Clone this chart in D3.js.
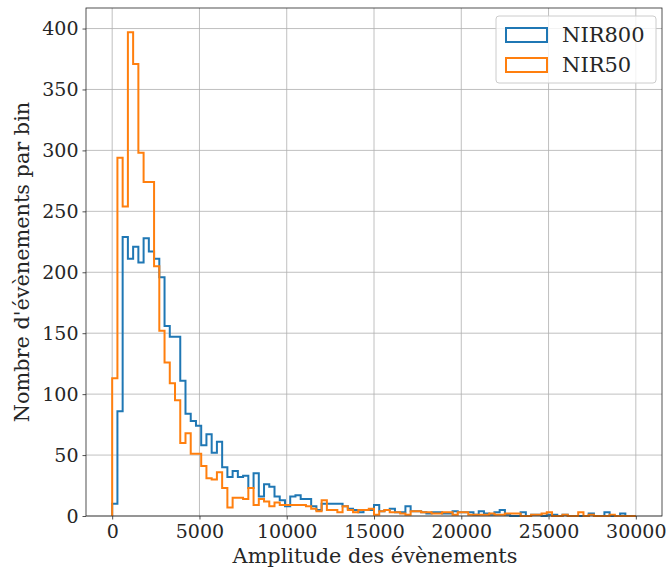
<!DOCTYPE html>
<html><head><meta charset="utf-8">
<script src="https://cdn.jsdelivr.net/npm/d3@7"></script>
<style>body{margin:0;background:#fff}svg{display:block}text{font-family:"DejaVu Serif",serif;fill:#262626}</style>
</head><body><svg id="c" width="672" height="569"></svg>
<script>
const binStart = 0, binWidth = 300, nBins = 100;
const seriesNames = ["NIR800", "NIR50"];
const nir800 = [10, 86, 229, 211, 221, 208, 228, 217, 211, 196, 156, 147, 147, 111, 84, 78, 74,
  58, 67, 52, 61, 40, 32, 37, 32, 33, 23, 35, 16, 26, 24, 16, 13, 8, 16, 17,
  14, 14, 8, 5, 10, 10, 10, 10, 8, 6, 5, 3, 5, 5, 9, 4, 5, 6,
  3, 3, 8, 4, 4, 3, 2, 3, 3, 2, 2, 4, 3, 3, 3, 1, 4, 2,
  1, 3, 5, 1, 0, 0, 3, 0, 1, 1, 0, 1, 1, 0, 1, 0, 0, 0, 0, 2, 0, 0, 3, 0, 0, 2, 0, 0];
const nir50 = [113, 294, 254, 397, 371, 298, 274, 274, 205, 152, 126, 109, 95, 60, 68, 51, 51,
  41, 31, 30, 36, 23, 7, 15, 15, 14, 23, 9, 14, 12, 8, 11, 9, 9, 9, 9,
  9, 8, 6, 4, 13, 5, 5, 3, 8, 5, 3, 5, 5, 6, 1, 4, 5, 3,
  3, 2, 1, 4, 4, 3, 3, 2, 2, 3, 3, 1, 3, 3, 1, 1, 1, 1,
  2, 1, 1, 2, 2, 2, 0, 0, 1, 1, 2, 3, 0, 0, 1, 0, 0, 3, 0, 1, 0, 0, 0, 1, 0, 0, 0, 0];
const xTicks = [0, 5000, 10000, 15000, 20000, 25000, 30000];
const yTicks = [0, 50, 100, 150, 200, 250, 300, 350, 400];
const colors = ["#1f77b4", "#ff7f0e"];

const svg = d3.select("#c");
const L = 86, R = 662, T = 8, B = 516;
const x = d3.scaleLinear().domain([-1500, 31500]).range([L, R]);
const yMax = d3.max(nir50.concat(nir800)) * 1.05;
const y = d3.scaleLinear().domain([0, yMax]).range([B, T]);

// grid
svg.append("g").selectAll("line").data(xTicks).join("line")
  .attr("x1", d => x(d)).attr("x2", d => x(d)).attr("y1", T).attr("y2", B)
  .attr("stroke", "#b0b0b0").attr("stroke-width", 0.8);
svg.append("g").selectAll("line").data(yTicks).join("line")
  .attr("x1", L).attr("x2", R).attr("y1", d => y(d)).attr("y2", d => y(d))
  .attr("stroke", "#b0b0b0").attr("stroke-width", 0.8);

// step histograms
function stepPts(vals) {
  const pts = [[binStart, 0]];
  vals.forEach((v, i) => {
    const a = binStart + i * binWidth, b = a + binWidth;
    pts.push([a, v]); pts.push([b, v]);
  });
  pts.push([binStart + vals.length * binWidth, 0]);
  return pts;
}
const line = d3.line().x(d => x(d[0])).y(d => y(d[1]));
[nir800, nir50].forEach((vals, i) => {
  svg.append("path").attr("d", line(stepPts(vals))).attr("fill", "none")
    .attr("stroke", colors[i]).attr("stroke-width", 2).attr("stroke-linejoin", "miter");
});

// axes
const xAxis = d3.axisBottom(x).tickValues(xTicks).tickSize(3.5).tickPadding(3.5).tickFormat(d3.format("d"));
const yAxis = d3.axisLeft(y).tickValues(yTicks).tickSize(3.5).tickPadding(4).tickFormat(d3.format("d"));
const gx = svg.append("g").attr("transform", `translate(0,${B})`).call(xAxis);
const gy = svg.append("g").attr("transform", `translate(${L},0)`).call(yAxis);
[gx, gy].forEach(g => {
  g.select(".domain").remove();
  g.selectAll(".tick line").attr("stroke", "#262626").attr("stroke-width", 0.8);
  g.selectAll(".tick text").attr("font-family", "DejaVu Serif").attr("font-size", 19).attr("fill", "#262626");
});
gx.selectAll(".tick text").attr("dy", "0.8em");

// frame
svg.append("rect").attr("x", L).attr("y", T).attr("width", R - L).attr("height", B - T)
  .attr("fill", "none").attr("stroke", "#262626").attr("stroke-width", 0.8);

// labels
svg.append("text").attr("x", 375).attr("y", 563).attr("text-anchor", "middle")
  .attr("font-size", 20.8).text("Amplitude des évènements");
svg.append("text").attr("transform", `translate(29,${(T + B) / 2}) rotate(-90)`).attr("text-anchor", "middle")
  .attr("font-size", 20.8).text("Nombre d'évènements par bin");

// legend
const lg = svg.append("g");
lg.append("rect").attr("x", 496).attr("y", 16).attr("width", 160).attr("height", 67).attr("rx", 3)
  .attr("fill", "#fff").attr("fill-opacity", 0.8).attr("stroke", "#cccccc").attr("stroke-width", 1);
seriesNames.forEach((n, i) => {
  const yy = 35 + i * 30;
  lg.append("rect").attr("x", 506).attr("y", yy - 7).attr("width", 41).attr("height", 14)
    .attr("fill", "none").attr("stroke", colors[i]).attr("stroke-width", 2);
  lg.append("text").attr("x", 562).attr("y", yy).attr("dy", "0.35em").attr("font-size", 21).text(n);
});
</script></body></html>
